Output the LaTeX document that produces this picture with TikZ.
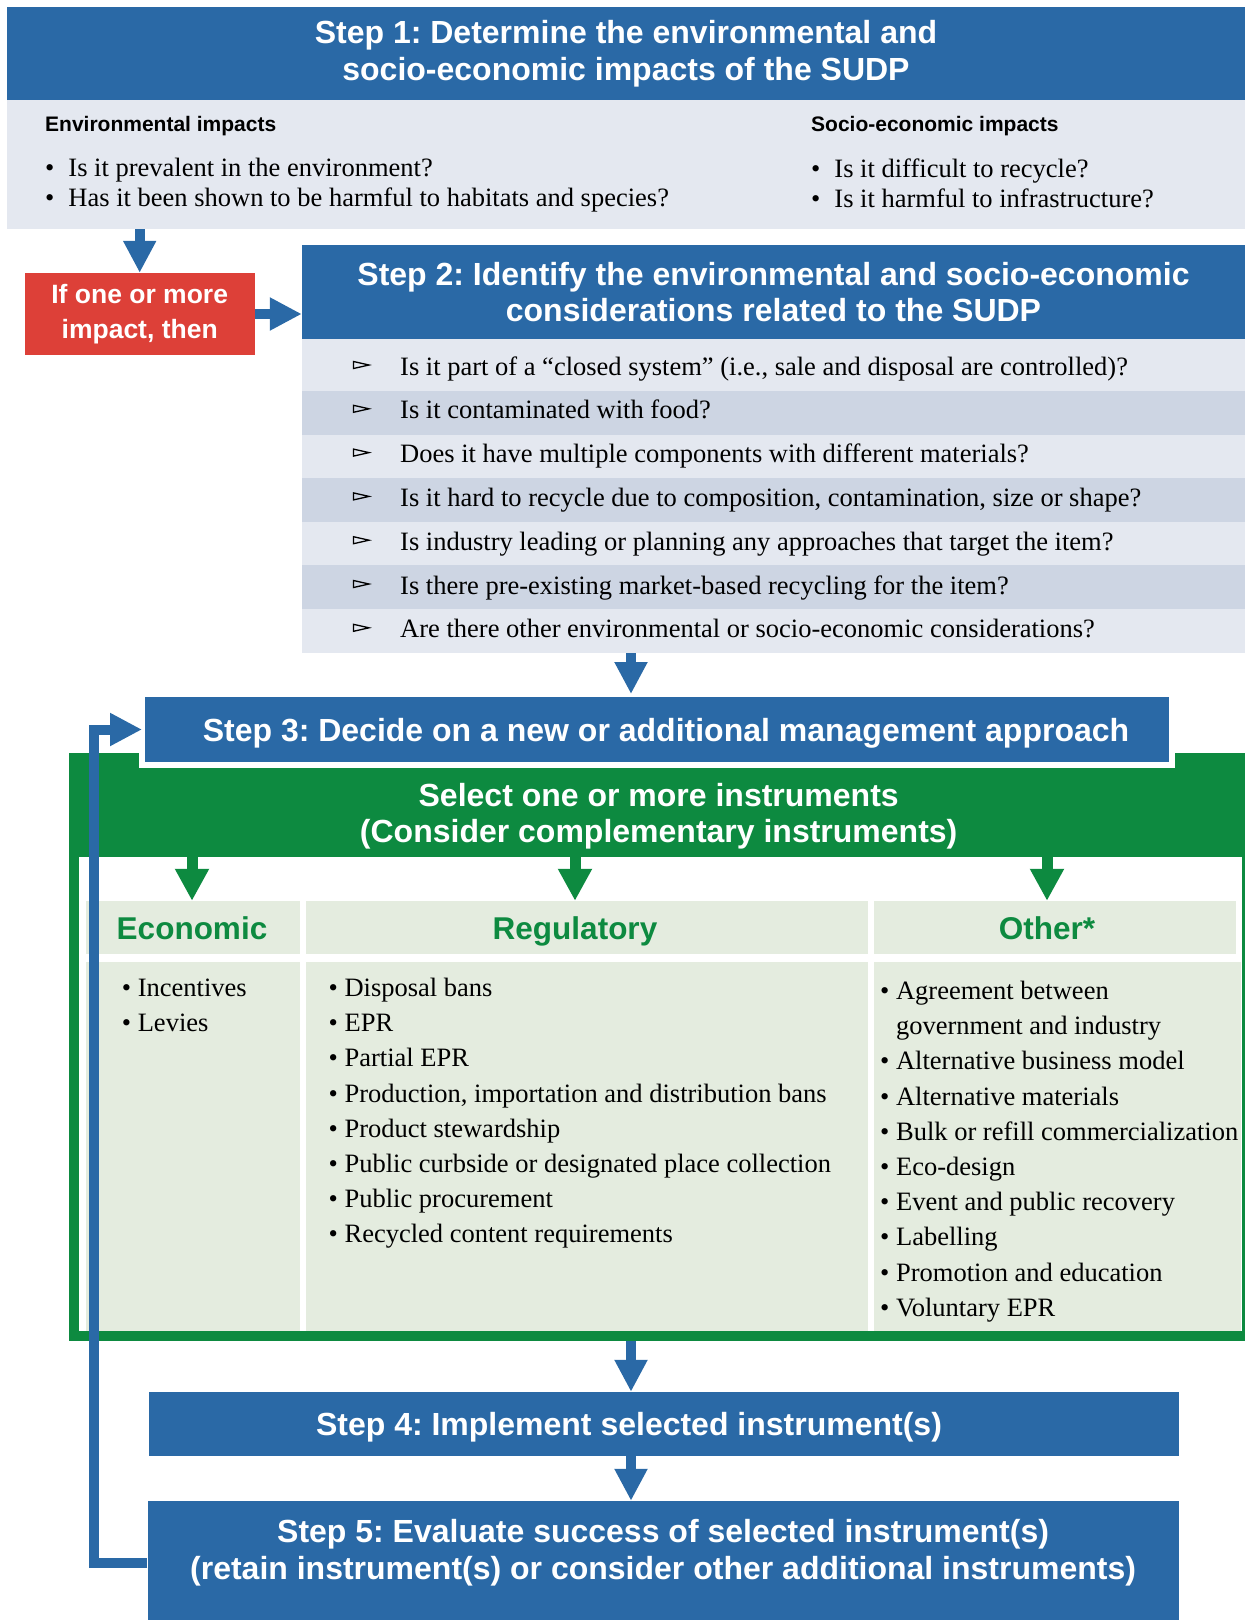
\documentclass[tikz,border=0pt]{standalone}
\usepackage{fontspec}
\setmainfont{Liberation Serif}
\setsansfont{Liberation Sans}
\usepackage{xcolor}
\usetikzlibrary{arrows.meta}
\frenchspacing

\definecolor{stepblue}{HTML}{2A69A6}
\definecolor{paleblue}{HTML}{E4E8F0}
\definecolor{stripe}{HTML}{CDD5E3}
\definecolor{ifred}{HTML}{DD4038}
\definecolor{instgreen}{HTML}{0D8A40}
\definecolor{cellgreen}{HTML}{E4ECDF}

\begin{document}
\begin{tikzpicture}[x=1pt, y=-1pt,
  head/.style={fill=stepblue, text=white, align=center, inner sep=0pt,
    font=\sffamily\bfseries\fontsize{32}{36.5}\selectfont},
  headtext/.style={text=white, inner sep=0pt, font=\sffamily\bfseries\fontsize{32}{36.5}\selectfont},
  subhead/.style={anchor=west, inner sep=0pt, font=\sffamily\bfseries\fontsize{21}{25}\selectfont},
  panel/.style={fill=paleblue, inner sep=0pt},
  list/.style={anchor=north west, align=left, inner sep=0pt, font=\fontsize{26.5}{30}\selectfont},
  qtext/.style={anchor=base west, inner sep=0pt, font=\fontsize{26.5}{30}\selectfont},
  cell/.style={text=instgreen, inner sep=0pt, text height=23pt, text depth=7pt, minimum height=60.4pt,
    font=\sffamily\bfseries\fontsize{31.5}{36}\selectfont},
  items/.style={anchor=north west, align=left, inner sep=0pt, font=\fontsize{26.5}{35.2}\selectfont},
  flow/.style={draw=stepblue, line width=10pt, -{Triangle[width=31pt,length=32pt]}},
  gflow/.style={draw=instgreen, line width=11pt, -{Triangle[width=32pt,length=32pt]}}]

  \useasboundingbox (0,0) rectangle (1245,1620);

  \node[head, minimum width=1238pt, minimum height=93pt] (s1) at (626,53.5)
    {Step 1: Determine the environmental and\\socio-economic impacts of the SUDP};
  \node[panel, minimum width=1238pt, minimum height=129pt] (s1b) at (626,164.5) {};
  \node[subhead] (envh) at (45,126.5) {Environmental impacts};
  \node[subhead] (soch) at (811,126.5) {Socio-economic impacts};
  \node[list] (envq) at (45,158.3)
    {•\hspace{14pt}Is it prevalent in the environment?\\•\hspace{14pt}Has it been shown to be harmful to habitats and species?};
  \node[list] (socq) at (811,158.3)
    {•\hspace{14pt}Is it difficult to recycle?\\•\hspace{14pt}Is it harmful to infrastructure?};

  \node[fill=ifred, text=white, align=center, inner sep=0pt, minimum width=230pt, minimum height=82pt,
    font=\sffamily\bfseries\fontsize{26.5}{35.5}\selectfont] (ifbox) at (139.7,314) {If one or more\\impact, then};
  \draw[flow] (ifbox.north |- s1b.south) -- (ifbox.north);

  \node[head, minimum width=943pt, minimum height=94pt] (s2) at (773.5,292)
    {Step 2: Identify the environmental and socio-economic\\considerations related to the SUDP};
  \draw[flow] (ifbox.east) -- (ifbox.east -| s2.west);
  \node[panel, minimum width=943pt, minimum height=314pt] (s2b) at (773.5,496) {};
  \fill[stripe] (302,391) rectangle (1245,434.6);
  \fill[stripe] (302,478.2) rectangle (1245,521.8);
  \fill[stripe] (302,565.4) rectangle (1245,609);
  \foreach \q [count=\i] in {{Is it part of a “closed system” (i.e., sale and disposal are controlled)?},
      {Is it contaminated with food?},
      {Does it have multiple components with different materials?},
      {Is it hard to recycle due to composition, contamination, size or shape?},
      {Is industry leading or planning any approaches that target the item?},
      {Is there pre-existing market-based recycling for the item?},
      {Are there other environmental or socio-economic considerations?}} {
    \pgfmathsetmacro\yb{375+43.8*(\i-1)}
    \draw[line width=1.3pt] (353.5,\yb-13.5) -- (369,\yb-10) -- (353.5,\yb-6.5) -- cycle;
    \node[qtext] (q\i) at (400,\yb) {\q};
  }

  \node[fill=instgreen, inner sep=0pt, minimum width=1176pt, minimum height=588pt] (frame) at (657,1047) {};
  \node[head, draw=white, line width=6pt, outer sep=0pt, minimum width=1030pt, minimum height=71pt,
    label={[headtext, name=s3t, xshift=9pt, yshift=-4pt]center:Step 3: Decide on a new or additional management approach}]
    (s3) at (657,729.5) {};
  \coordinate (mid) at (631,0);
  \draw[flow] (s2b.south -| mid) -- (s3.north -| mid);
  \fill[white] (79,857) rectangle (1242,1331);
  \node[text=white, align=center, font=\sffamily\bfseries\fontsize{32}{36.5}\selectfont] (sel)
    at (658.7,816) {Select one or more instruments\\(Consider complementary instruments)};

  \fill[cellgreen] (86,901) rectangle (300,954.3);
  \fill[cellgreen] (305.5,901) rectangle (867.5,954.3);
  \fill[cellgreen] (874,901) rectangle (1236,954.3);
  \fill[cellgreen] (86,961.7) rectangle (300,1331);
  \fill[cellgreen] (305.5,961.7) rectangle (867.5,1331);
  \fill[cellgreen] (874,961.7) rectangle (1240.7,1331);
  \node[cell] (econ) at (192,931.2) {Economic};
  \node[cell] (reg) at (575,931.2) {Regulatory};
  \node[cell] (oth) at (1047,931.2) {Other*};
  \coordinate (band) at (0,857);
  \draw[gflow] (econ.north |- band) -- (econ.north);
  \draw[gflow] (reg.north |- band) -- (reg.north);
  \draw[gflow] (oth.north |- band) -- (oth.north);

  \node[items] (econi) at (121.7,978.6) {• Incentives\\• Levies};
  \node[items] (regi) at (328.5,977.8) {• Disposal bans\\• EPR\\• Partial EPR\\
    • Production, importation and distribution bans\\• Product stewardship\\
    • Public curbside or designated place collection\\• Public procurement\\
    • Recycled content requirements};
  \node[items] (othi) at (880,980.8) {• Agreement between\\\hphantom{•} government and industry\\
    • Alternative business model\\• Alternative materials\\• Bulk or refill commercialization\\
    • Eco-design\\• Event and public recovery\\• Labelling\\• Promotion and education\\
    • Voluntary EPR};

  \node[head, minimum width=1030pt, minimum height=64pt,
    label={[headtext, name=s4t, xshift=-35pt, yshift=-3pt]center:Step 4: Implement selected instrument(s)}]
    (s4) at (664,1424) {};
  \draw[flow] (frame.south -| mid) -- (s4.north -| mid);
  \fill[stepblue] (147.6,1590) rectangle (1178.6,1620);
  \node[head, minimum width=1031pt, minimum height=103pt] (s5) at (663.1,1552.5)
    {Step 5: Evaluate success of selected instrument(s)\\(retain instrument(s) or consider other additional instruments)};
  \draw[flow] (s4.south -| mid) -- (s5.north -| mid);
  \draw[flow] ([yshift=-10.5pt]s5.west) -- ++(-53pt,0) |- (s3.west);
\end{tikzpicture}
\end{document}
